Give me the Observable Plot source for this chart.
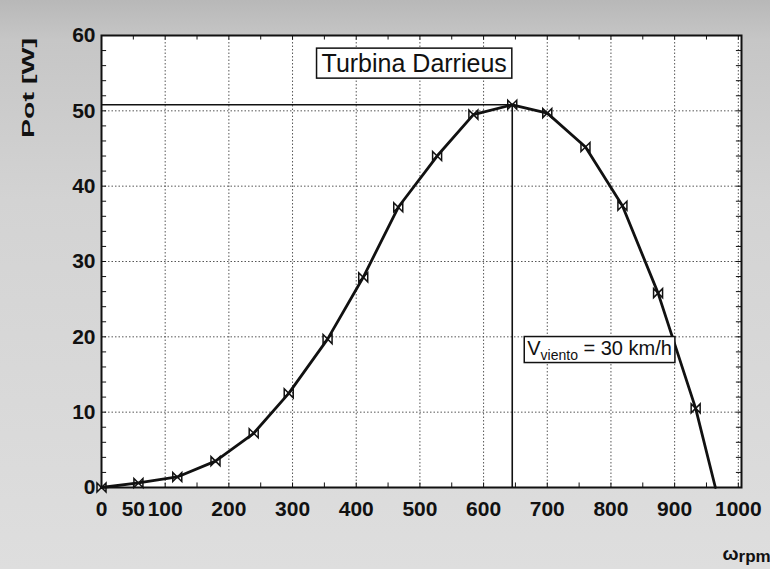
<!DOCTYPE html>
<html>
<head>
<meta charset="utf-8">
<script src="https://cdn.jsdelivr.net/npm/d3@7"></script>
<script src="https://cdn.jsdelivr.net/npm/@observablehq/plot@0.6"></script>
<style>
  html, body { margin: 0; padding: 0; background: #d6d6d6; }
  #chart svg { display: block; }
</style>
</head>
<body>
<div id="chart"></div>
<script>
// Power curve of a Darrieus turbine: rotor speed (rpm) vs. power (W)
const rpm = [0, 58, 119, 179, 239, 294, 355, 411, 466, 527, 584, 645, 700, 760, 818, 874, 933, 964];
const pot = [0, 0.6, 1.4, 3.5, 7.2, 12.5, 19.7, 27.9, 37.2, 44.0, 49.5, 50.8, 49.7, 45.2, 37.4, 25.8, 10.5, 0];

const xTicks = [0, 50, 100, 200, 300, 400, 500, 600, 700, 800, 900, 1000];
const yTicks = [0, 10, 20, 30, 40, 50, 60];

const title = "Turbina Darrieus";
const windLabel = ["V", "viento", " = 30 km/h"];
const yLabel = "Pot [W]";
const xLabel = ["ω", "rpm"];

const curve = rpm.map((r, i) => ({rpm: r, pot: pot[i]}));
const markers = curve.slice(0, -1);            // the zero crossing carries no marker
const peak = curve.reduce((a, b) => (b.pot > a.pot ? b : a));

// bow-tie marker (two triangles meeting at the centre)
const bowtie = {
  draw(ctx, size) {
    const s = Math.sqrt(size / Math.PI);
    ctx.moveTo(-s, -s);
    ctx.lineTo(s, s);
    ctx.lineTo(s, -s);
    ctx.lineTo(-s, s);
    ctx.closePath();
  }
};

const ink = "#111";
const dotted = {stroke: "#444", strokeOpacity: 0.9, strokeDasharray: "1.5,2"};

const chart = Plot.plot({
  width: 770,
  height: 569,
  marginLeft: 101,
  marginRight: 29,
  marginTop: 35,
  marginBottom: 82,
  style: {
    fontFamily: "'Liberation Sans', Arial, sans-serif",
    color: ink,
    background: "linear-gradient(to bottom, #b8b8b8 0px, #c6c6c6 40px, #d3d3d3 200px, #dedede 100%)"
  },
  x: {domain: [0, 1005]},
  y: {domain: [0, 60]},
  marks: [
    Plot.frame({fill: "white"}),
    Plot.gridX(d3.range(100, 1001, 100), dotted),
    Plot.gridY(d3.range(10, 60, 10), dotted),
    // small inward ticks on all four sides
    Plot.ruleX(d3.range(50, 1001, 50), {y1: 0, y2: 0.6, stroke: ink}),
    Plot.ruleX(d3.range(50, 1001, 50), {y1: 59.4, y2: 60, stroke: ink}),
    Plot.ruleY(d3.range(2, 60, 2), {x1: 0, x2: 8, stroke: ink}),
    Plot.ruleY(d3.range(2, 60, 2), {x1: 997, x2: 1005, stroke: ink}),
    // maximum power guides
    Plot.ruleY([peak.pot], {x1: 0, x2: peak.rpm, stroke: ink, strokeWidth: 1.6}),
    Plot.ruleX([peak.rpm], {y1: 0, y2: peak.pot, stroke: ink, strokeWidth: 1.6}),
    Plot.line(curve, {x: "rpm", y: "pot", stroke: ink, strokeWidth: 2.8}),
    Plot.dot(markers, {x: "rpm", y: "pot", symbol: bowtie, r: 4.5, stroke: ink, fill: "none", strokeWidth: 1.5}),
    Plot.frame({stroke: ink, strokeWidth: 2}),
    Plot.axisX({ticks: xTicks, tickSize: 0, tickPadding: 14, tickFormat: d => String(d),
                fontSize: 21, fontWeight: "bold", label: null}),
    Plot.axisY({ticks: yTicks, tickSize: 0, tickPadding: 6, tickFormat: d => String(d),
                fontSize: 21, fontWeight: "bold", label: null}),
    Plot.text([title], {x: 491, y: 56.2, fontSize: 25, fill: ink}),
    Plot.text([windLabel.join("")], {x: peak.rpm, y: 18.5, dx: 15, textAnchor: "start", fontSize: 20, fill: ink}),
    Plot.text([yLabel], {frameAnchor: "top-left", rotate: -90, fontSize: 17, fontWeight: "bold", fill: ink}),
    Plot.text([xLabel.join("")], {frameAnchor: "bottom-right", textAnchor: "start", dx: -19, dy: 72, fontSize: 19, fontWeight: "bold", fill: ink})
  ]
});

document.getElementById("chart").append(chart);

const svg = d3.select(chart);
const findText = s => svg.selectAll("text").filter(function () { return this.textContent === s; }).node();

// boxed label helper: white rectangle behind a text element
function boxAround(node, padX, padY) {
  const b = node.getBBox();
  const rect = document.createElementNS("http://www.w3.org/2000/svg", "rect");
  rect.setAttribute("x", b.x - padX);
  rect.setAttribute("y", b.y - padY);
  rect.setAttribute("width", b.width + 2 * padX);
  rect.setAttribute("height", b.height + 2 * padY);
  rect.setAttribute("fill", "white");
  rect.setAttribute("stroke", ink);
  rect.setAttribute("stroke-width", 1.5);
  if (node.getAttribute("transform")) rect.setAttribute("transform", node.getAttribute("transform"));
  node.parentNode.insertBefore(rect, node);
}

// move a text element so that its visual centre sits at (cx, cy)
function centreAt(node, cx, cy) {
  const r = node.getBoundingClientRect();
  const s = chart.getBoundingClientRect();
  const tx = cx - (r.x - s.x + r.width / 2);
  const ty = cy - (r.y - s.y + r.height / 2);
  node.setAttribute("transform", `translate(${tx},${ty}) ${node.getAttribute("transform") || ""}`);
}

// title
const titleNode = findText(title);
boxAround(titleNode, 5, 1);

// wind speed label with subscript
const windNode = findText(windLabel.join(""));
const w = d3.select(windNode).text("");
w.append("tspan").text(windLabel[0]);
w.append("tspan").attr("font-size", 14).attr("dy", 5).text(windLabel[1]);
w.append("tspan").attr("dy", -5).text(windLabel[2]);
boxAround(windNode, 3, 0);

// stretched vertical axis title, placed beside the top of the axis
const yNode = findText(yLabel);
yNode.setAttribute("textLength", 100);
yNode.setAttribute("lengthAdjust", "spacingAndGlyphs");
centreAt(yNode, 28, 88);

// horizontal axis title with subscript unit
const xNode = findText(xLabel.join(""));
const xl = d3.select(xNode).text("");
xl.append("tspan").text(xLabel[0]);
xl.append("tspan").attr("font-size", 17).attr("dy", 2).text(xLabel[1]);
</script>
</body>
</html>
